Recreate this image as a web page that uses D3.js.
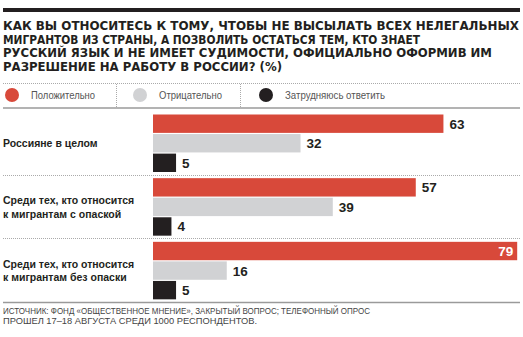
<!DOCTYPE html>
<html><head><meta charset="utf-8">
<script src="https://cdn.jsdelivr.net/npm/d3@7"></script>
<style>
body{margin:0;background:#fff}
svg{display:block}
</style></head>
<body>
<script>
const titleLines = [
  "КАК ВЫ ОТНОСИТЕСЬ К ТОМУ, ЧТОБЫ НЕ ВЫСЫЛАТЬ ВСЕХ НЕЛЕГАЛЬНЫХ",
  "МИГРАНТОВ ИЗ СТРАНЫ, А ПОЗВОЛИТЬ ОСТАТЬСЯ ТЕМ, КТО ЗНАЕТ",
  "РУССКИЙ ЯЗЫК И НЕ ИМЕЕТ СУДИМОСТИ, ОФИЦИАЛЬНО ОФОРМИВ ИМ",
  "РАЗРЕШЕНИЕ НА РАБОТУ В РОССИИ? (%)"
];
const series = ["Положительно", "Отрицательно", "Затрудняюсь ответить"];
const categories = ["Россияне в целом", "Среди тех, кто относится\nк мигрантам с опаской", "Среди тех, кто относится\nк мигрантам без опаски"];
const positive = [63, 57, 79];
const negative = [32, 39, 16];
const undecided = [5, 4, 5];
const footerLines = [
  "ИСТОЧНИК: ФОНД «ОБЩЕСТВЕННОЕ МНЕНИЕ», ЗАКРЫТЫЙ ВОПРОС; ТЕЛЕФОННЫЙ ОПРОС",
  "ПРОШЕЛ 17–18 АВГУСТА СРЕДИ 1000 РЕСПОНДЕНТОВ."
];

const colors = ["#d8493a", "#d1d2d4", "#231f20"];
const values = [positive, negative, undecided];

const W = 523, H = 337;
const svg = d3.select("body").append("svg").attr("width", W).attr("height", H);

// top thick rule
svg.append("rect").attr("x", 3).attr("y", 8).attr("width", 517).attr("height", 4).attr("fill", "#231f20");

// title
const titleWidths = [516, 417, 489, 279];
svg.append("g").selectAll("text").data(titleLines).join("text")
  .attr("x", 3).attr("y", (d, i) => 30 + i * 13.5)
  .attr("font-family", "'DejaVu Sans Condensed','DejaVu Sans',sans-serif")
  .attr("font-weight", "bold").attr("font-size", 13)
  .attr("fill", "#231f20")
  .attr("textLength", (d, i) => titleWidths[i])
  .attr("lengthAdjust", "spacingAndGlyphs")
  .text(d => d);

// legend rules
svg.append("line").attr("x1", 3).attr("x2", 520).attr("y1", 83.5).attr("y2", 83.5)
  .attr("stroke", "#aaa").attr("stroke-width", 1).attr("stroke-dasharray", "1,1");
svg.append("line").attr("x1", 3).attr("x2", 520).attr("y1", 108).attr("y2", 108)
  .attr("stroke", "#9a9a9a").attr("stroke-width", 1.5);
[116.5, 240.5].forEach(x => svg.append("line").attr("x1", x).attr("x2", x).attr("y1", 84).attr("y2", 107)
  .attr("stroke", "#aaa").attr("stroke-dasharray", "1,1"));

const legX = [12, 140, 266];
const legW = [64, 63, 100];
const leg = svg.append("g").selectAll("g").data(series).join("g")
  .attr("transform", (d, i) => `translate(${legX[i]},95)`);
leg.append("circle").attr("r", 7).attr("fill", (d, i) => colors[i]);
leg.append("text").attr("x", 19).attr("y", 3.5)
  .attr("font-family", "'Liberation Sans Narrow','Liberation Sans',sans-serif")
  .attr("font-size", 10).attr("fill", "#555")
  .attr("textLength", (d, i) => legW[i]).attr("lengthAdjust", "spacingAndGlyphs")
  .text(d => d);

// scales
const y = d3.scaleBand().domain(categories).range([111, 302]).paddingInner(0);
const yi = d3.scaleBand().domain(series).range([3.5, 61]).paddingInner(0.06);
const x = d3.scaleLinear().domain([0, 100]).range([153, 614]);

// separators
categories.slice(1).forEach(c => {
  svg.append("line").attr("x1", 3).attr("x2", 520).attr("y1", Math.round(y(c)) + 0.5).attr("y2", Math.round(y(c)) + 0.5)
    .attr("stroke", "#aaa").attr("stroke-dasharray", "1,1");
});
svg.append("line").attr("x1", 3).attr("x2", 520).attr("y1", 302.5).attr("y2", 302.5)
  .attr("stroke", "#9a9a9a").attr("stroke-width", 1.5);

// groups
const g = svg.append("g").selectAll("g").data(categories).join("g")
  .attr("transform", d => `translate(0,${y(d)})`);

g.each(function(cat, ci) {
  const gg = d3.select(this);
  const lines = cat.split("\n");
  const mid = yi(series[1]) + yi.bandwidth() / 2;
  gg.append("text")
    .attr("font-family", "'Liberation Sans','Arial',sans-serif")
    .attr("font-weight", "bold").attr("font-size", 10.5).attr("fill", "#231f20")
    .selectAll("tspan").data(lines).join("tspan")
    .attr("x", 3)
    .attr("y", (d, i) => mid + 4 + (i - (lines.length - 1) / 2) * 13.5)
    .text(d => d);

  series.forEach((s, si) => {
    const v = values[si][ci];
    gg.append("rect")
      .attr("x", x(0)).attr("y", yi(s))
      .attr("width", x(v) - x(0)).attr("height", yi.bandwidth())
      .attr("fill", colors[si]);
    const inside = x(v) > 490;
    gg.append("text")
      .attr("x", inside ? x(v) - 4 : x(v) + 6)
      .attr("y", yi(s) + yi.bandwidth() / 2 + 5)
      .attr("text-anchor", inside ? "end" : "start")
      .attr("font-family", "'Liberation Sans','Arial',sans-serif")
      .attr("font-weight", "bold").attr("font-size", 13.5)
      .attr("fill", inside ? "#fff" : "#231f20")
      .text(v);
  });
});

// footer
const footW = [367, 254];
svg.append("g").selectAll("text").data(footerLines).join("text")
  .attr("x", 3).attr("y", (d, i) => 314 + i * 10)
  .attr("font-family", "'Liberation Sans Narrow','Liberation Sans',sans-serif")
  .attr("font-size", 8.5).attr("fill", "#444")
  .attr("textLength", (d, i) => footW[i]).attr("lengthAdjust", "spacingAndGlyphs")
  .text(d => d);
</script>
</body></html>
